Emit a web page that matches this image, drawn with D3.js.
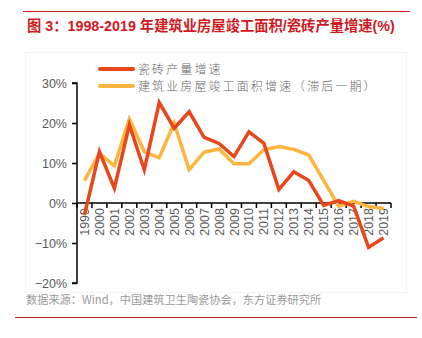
<!DOCTYPE html>
<html>
<head>
<meta charset="utf-8">
<script src="https://cdn.jsdelivr.net/npm/d3@7"></script>
<style>
  html, body { margin: 0; padding: 0; background: #fff; }
  svg { display: block; }
</style>
</head>
<body>
<svg id="chart" width="422" height="338"></svg>
<script>
// Years on the x axis
const years = ["1999","2000","2001","2002","2003","2004","2005","2006","2007","2008","2009","2010","2011","2012","2013","2014","2015","2016","2017","2018","2019"];
// 瓷砖产量增速 (%)
const tileGrowth = [-3.0, 12.8, 3.7, 19.5, 8.3, 25.1, 18.7, 22.8, 16.4, 14.9, 11.6, 17.8, 14.9, 3.4, 7.8, 5.6, -0.6, 0.6, -0.8, -11.1, -8.7];
// 建筑业房屋竣工面积增速（滞后一期） (%)
const completedGrowth = [5.6, 12.4, 9.3, 21.0, 12.8, 11.3, 20.0, 8.3, 12.7, 13.5, 9.8, 9.8, 13.3, 14.1, 13.4, 12.0, 5.6, -0.8, 0.4, -0.9, -1.4];
// Y axis ticks (%)
const yTicks = [30, 20, 10, 0, -10, -20];
const seriesNames = ["瓷砖产量增速", "建筑业房屋竣工面积增速（滞后一期）"];
const seriesColors = ["#E9461C", "#FFB43F"];

const svg = d3.select("#chart");
const cjk = "'Noto Sans CJK SC', 'Noto Sans', sans-serif";
const latin = "Arial, 'Liberation Sans', 'Noto Sans CJK SC', sans-serif";

// Header rule and title
svg.append("line").attr("x1", 23).attr("x2", 410).attr("y1", 11.5).attr("y2", 11.5)
  .attr("stroke", "#C8201E").attr("stroke-width", 1);
svg.append("text").attr("x", 27).attr("y", 30.5)
  .attr("font-family", latin).attr("font-size", 14.3).attr("font-weight", "bold")
  .attr("fill", "#D0191E")
  .text("图 3：1998-2019 年建筑业房屋竣工面积/瓷砖产量增速(%)");

// Faint chart frame
svg.append("rect").attr("x", 25.5).attr("y", 52.5).attr("width", 381).attr("height", 240)
  .attr("fill", "none").attr("stroke", "#f4f4f4").attr("stroke-width", 1);

// Scales
const x = d3.scaleBand().domain(years).range([77, 391]).paddingInner(0).paddingOuter(0);
const y = d3.scaleLinear().domain([-20, 30]).range([283, 83]);

// Y axis
const yAxis = d3.axisLeft(y).tickValues(yTicks).tickSize(5).tickPadding(5)
  .tickFormat(d => (d < 0 ? "\u2212" + Math.abs(d) : d) + "%");
const gy = svg.append("g").attr("transform", "translate(77,0)").call(yAxis);
gy.select(".domain").attr("stroke", "#000").attr("stroke-width", 1.5).attr("d", "M-5,83H0V283H-5");
gy.selectAll(".tick line").attr("stroke", "#000").attr("stroke-width", 1.5);
gy.selectAll(".tick text").attr("font-family", latin).attr("font-size", 12.5).attr("fill", "#595959");

// X axis at zero, ticks on band boundaries
const gx = svg.append("g").attr("transform", `translate(0,${y(0)})`);
gx.append("line").attr("x1", 77).attr("x2", 391).attr("stroke", "#000").attr("stroke-width", 1.5);
const bounds = years.map(d => x(d)).concat([x(years[years.length - 1]) + x.bandwidth()]);
gx.selectAll("line.tk").data(bounds).join("line").attr("class", "tk")
  .attr("x1", d => d).attr("x2", d => d).attr("y1", 0).attr("y2", 5)
  .attr("stroke", "#000").attr("stroke-width", 1.5);
gx.selectAll("text").data(years).join("text")
  .attr("transform", d => `translate(${x(d) + x.bandwidth() / 2 + 4.5},5) rotate(-90)`)
  .attr("text-anchor", "end")
  .attr("font-family", latin).attr("font-size", 12.5).attr("fill", "#595959")
  .text(d => d);

// Lines
const line = d3.line().x((d, i) => x(years[i]) + x.bandwidth() / 2).y(d => y(d));
[completedGrowth, tileGrowth].forEach((s, k) => {
  svg.append("path").datum(s).attr("d", line)
    .attr("fill", "none").attr("stroke", seriesColors[1 - k]).attr("stroke-width", 3.5)
    .attr("stroke-linejoin", "miter");
});

// Legend
seriesNames.forEach((name, i) => {
  const ly = 69 + i * 17;
  svg.append("line").attr("x1", 100).attr("x2", 133).attr("y1", ly).attr("y2", ly)
    .attr("stroke", seriesColors[i]).attr("stroke-width", 4).attr("stroke-linecap", "round");
  svg.append("text").attr("x", 138).attr("y", ly + 4.5)
    .attr("font-family", cjk).attr("font-size", 12).attr("font-weight", 300)
    .attr("letter-spacing", 2.1).attr("fill", "#666")
    .text(name);
});

// Source note and footer rule
svg.append("text").attr("x", 26).attr("y", 304)
  .attr("font-family", cjk).attr("font-size", 11.2).attr("fill", "#9a9a9a")
  .text("数据来源：Wind，中国建筑卫生陶瓷协会，东方证券研究所");
svg.append("line").attr("x1", 15).attr("x2", 417).attr("y1", 317.5).attr("y2", 317.5)
  .attr("stroke", "#C8201E").attr("stroke-width", 1.2);
</script>
</body>
</html>
